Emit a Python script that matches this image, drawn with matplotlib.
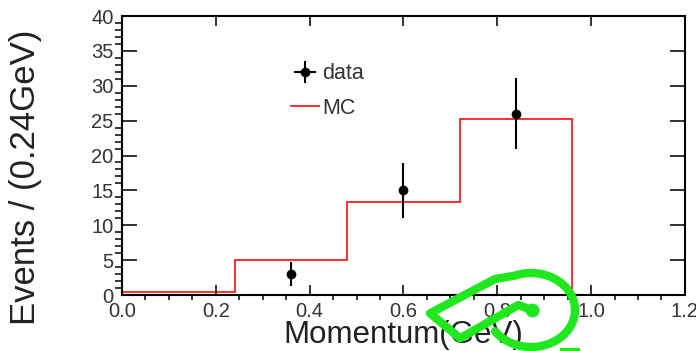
import numpy as np
import matplotlib
matplotlib.use('Agg')
import matplotlib.pyplot as plt
from matplotlib.ticker import MultipleLocator
from matplotlib.lines import Line2D

plt.rcParams['font.family'] = ['Liberation Sans', 'DejaVu Sans']

# MC histogram (bin width 0.24 GeV)
bin_edges = [0.0, 0.24, 0.48, 0.72, 0.96]
mc_counts = [0.5, 5.0, 13.3, 25.3]

# data points with errors
data_x = [0.36, 0.60, 0.84]
data_y = [3, 15, 26]
data_err = [1.7, 3.9, 5.1]

fig = plt.figure(figsize=(6.96, 3.51), dpi=100)
ax = fig.add_axes([0.1753, 0.1595, 0.8087, 0.7949])

ax.stairs(mc_counts, bin_edges, color='#ff2020', lw=1.3, label='MC')
ax.errorbar(data_x, data_y, yerr=data_err, fmt='o', color='black',
            ms=6, elinewidth=1.5, capsize=0)

# proxy for the legend (ROOT style cross)
proxy = ax.errorbar([np.nan], [np.nan], xerr=[1], yerr=[1], fmt='o',
                    color='black', ms=6, elinewidth=1.5, capsize=0)

ax.set_xlim(0, 1.2)
ax.set_ylim(0, 40)
ax.xaxis.set_major_locator(MultipleLocator(0.2))
ax.xaxis.set_minor_locator(MultipleLocator(0.05))
ax.yaxis.set_major_locator(MultipleLocator(5))
ax.yaxis.set_minor_locator(MultipleLocator(1))
ax.xaxis.set_major_formatter(plt.FuncFormatter(lambda v, p: f'{v:.1f}'))

ax.tick_params(direction='in', top=True, right=True, labelsize=14.5, width=1.3,
               colors='#222222', labelcolor='#333333')
ax.tick_params(axis='x', which='major', length=7, pad=5)
ax.tick_params(axis='x', which='minor', length=3.5, width=1.1)
ax.tick_params(axis='y', which='major', length=10.5, pad=6)
ax.tick_params(axis='y', which='minor', length=5, width=1.1)
for s in ax.spines.values():
    s.set_linewidth(1.5)

ax.set_xlabel('Momentum(GeV)', fontsize=22.5, labelpad=-1, color='#222222')
ax.text(-0.172, 0.95, 'Events / (0.24GeV)', transform=ax.transAxes,
        rotation=90, ha='center', va='top', fontsize=25, color='#222222')

handles = [proxy, Line2D([], [], color='#ff2020', lw=1.3)]
ax.legend(handles, ['data', 'MC'], loc='upper left',
          bbox_to_anchor=(0.30, 0.83), frameon=False, fontsize=15.5,
          handlelength=1.3, handletextpad=0.15, labelspacing=0.62,
          borderpad=0, borderaxespad=0, labelcolor='#333333')

# green hand-drawn scribble over the lower right of the picture
pts = [(531.7, 310), (518.3, 305), (460, 338.3), (430, 313.3), (495, 279)]
t = np.linspace(np.radians(112), np.radians(-145), 50)
arc = [(531 + 44 * np.cos(a), 310 - 37 * np.sin(a)) for a in t]
pts = pts + arc
px = [p[0] / 696 for p in pts]
py = [1 - p[1] / 351 for p in pts]
fig.add_artist(Line2D(px, py, color='#1fe81f', lw=6, solid_joinstyle='round',
                      solid_capstyle='round', transform=fig.transFigure))
fig.add_artist(Line2D([531.7 / 696], [1 - 310 / 351], marker='o', ms=9,
                      color='#1fe81f', transform=fig.transFigure))
fig.add_artist(Line2D([562 / 696, 578 / 696], [1 - 350 / 351, 1 - 350 / 351],
                      color='#1fe81f', lw=3, transform=fig.transFigure))

fig.savefig('out.png', dpi=100)
